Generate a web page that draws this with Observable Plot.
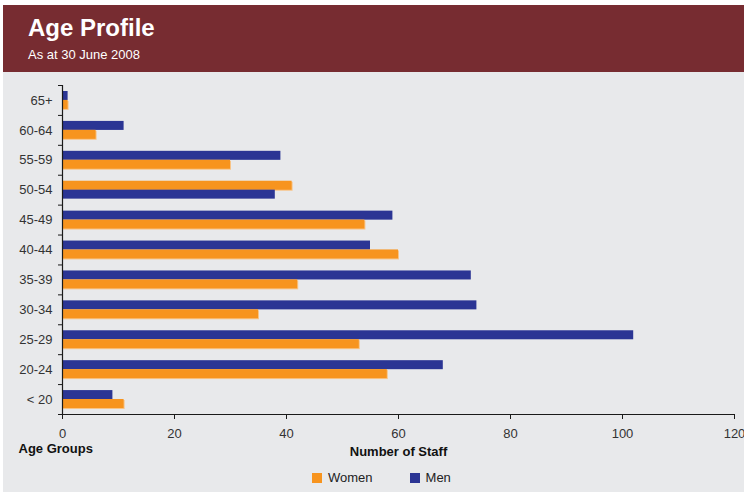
<!DOCTYPE html>
<html>
<head>
<meta charset="utf-8">
<script src="https://cdn.jsdelivr.net/npm/d3@7"></script>
<script src="https://cdn.jsdelivr.net/npm/@observablehq/plot@0.6"></script>
<style>
  html, body { margin: 0; padding: 0; background: #ffffff; }
  body { font-family: "Liberation Sans", Arial, Helvetica, sans-serif; }
  #card {
    position: absolute; left: 3px; top: 5px; width: 741px; height: 487px;
    background: #e8e9eb; overflow: hidden;
  }
  #header { position: relative; height: 67px; background: #772c31; color: #ffffff; }
  #title { position: absolute; left: 25px; top: 9px; font-size: 24px; font-weight: bold; line-height: 28px; }
  #subtitle { position: absolute; left: 25px; top: 42px; font-size: 13px; line-height: 16px; }
  #plot { position: absolute; left: 0; top: 67px; }
  #legend {
    position: absolute; left: 309px; top: 465px; display: flex; align-items: center;
    font-size: 13px; color: #222;
  }
  .item { display: flex; align-items: center; margin-right: 37px; }
  .swatch { width: 10px; height: 10px; margin-right: 6px; }
</style>
</head>
<body>
<div id="card">
  <div id="header">
    <div id="title">Age Profile</div>
    <div id="subtitle">As at 30 June 2008</div>
  </div>
  <div id="plot"></div>
  <div id="legend"></div>
</div>
<script>
// Age groups, listed from the bottom row of the chart to the top row
const ageGroups = ["< 20", "20-24", "25-29", "30-34", "35-39", "40-44", "45-49", "50-54", "55-59", "60-64", "65+"];
const men   = [9, 68, 102, 74, 73, 55, 59, 38, 39, 11, 1];
const women = [11, 58, 53, 35, 42, 60, 54, 41, 30, 6, 1];
// Which series occupies the upper slot of each age group's pair of bars
const upperSeries = ["Men", "Men", "Men", "Men", "Men", "Men", "Men", "Women", "Men", "Men", "Men"];
const seriesNames = ["Women", "Men"];
const seriesColors = ["#f7941e", "#2b3594"];
const xTicks = [0, 20, 40, 60, 80, 100, 120];

// One row per bar; each age group spans [index, index + 1] on the y scale
const rows = [];
ageGroups.forEach((group, i) => {
  rows.push({group, series: "Men", count: men[i], lo: i, hi: i + 1, upper: upperSeries[i] === "Men"});
  rows.push({group, series: "Women", count: women[i], lo: i, hi: i + 1, upper: upperSeries[i] === "Women"});
});
const upperRows = rows.filter(d => d.upper);
const lowerRows = rows.filter(d => !d.upper);
const womenRows = rows.filter(d => d.series === "Women");

const barOpts = {x1: 0, x2: "count", y1: "lo", y2: "hi", fill: "series"};

const chart = Plot.plot({
  width: 741,
  height: 392,
  marginLeft: 59,
  marginRight: 10,
  marginTop: 13,
  marginBottom: 50,
  style: {background: "transparent", fontFamily: "'Liberation Sans', Arial, sans-serif", fontSize: "13px", overflow: "visible"},
  x: {domain: [0, 120]},
  y: {domain: [0, ageGroups.length]},
  color: {domain: seriesNames, range: seriesColors},
  marks: [
    // soft edge under the orange bars
    Plot.rectX(womenRows.filter(d => d.upper), {...barOpts, fill: "#f8c487", dx: 1, dy: 1, insetTop: 6, insetBottom: 14.9}),
    Plot.rectX(womenRows.filter(d => !d.upper), {...barOpts, fill: "#f8c487", dx: 1, dy: 1, insetTop: 14.9, insetBottom: 6}),
    Plot.rectX(upperRows, {...barOpts, insetTop: 6, insetBottom: 14.9}),
    Plot.rectX(lowerRows, {...barOpts, insetTop: 14.9, insetBottom: 6}),
    // axis lines
    Plot.ruleX([0], {stroke: "#1a1a1a", strokeWidth: 1.2}),
    Plot.ruleY([0], {stroke: "#1a1a1a", strokeWidth: 1.2}),
    // ticks between age groups
    Plot.axisY({ticks: d3.range(0, ageGroups.length + 1), tickSize: 4, tickFormat: () => "", stroke: "#1a1a1a", label: null}),
    // age group labels, centred on each row
    Plot.axisY({ticks: ageGroups.map((_, i) => i + 0.5), tickFormat: v => ageGroups[Math.floor(v)], tickSize: 0, tickPadding: 10, fill: "#333", label: null}),
    Plot.axisX({ticks: xTicks, tickSize: 5, tickPadding: 9, stroke: "#1a1a1a", fill: "#333", label: null}),
    Plot.text(["Age Groups"], {text: d => d, frameAnchor: "bottom-left", lineAnchor: "middle", dx: -44, dy: 34.5, textAnchor: "start", fontWeight: "bold", fill: "#111"}),
    Plot.text(["Number of Staff"], {text: d => d, frameAnchor: "bottom", lineAnchor: "middle", dy: 37.5, fontWeight: "bold", fill: "#111"})
  ]
});
document.getElementById("plot").appendChild(chart);

// legend
const legend = document.getElementById("legend");
seriesNames.forEach((name, i) => {
  const item = document.createElement("div");
  item.className = "item";
  const sw = document.createElement("div");
  sw.className = "swatch";
  sw.style.background = seriesColors[i];
  const label = document.createElement("span");
  label.textContent = name;
  item.appendChild(sw);
  item.appendChild(label);
  legend.appendChild(item);
});
</script>
</body>
</html>
